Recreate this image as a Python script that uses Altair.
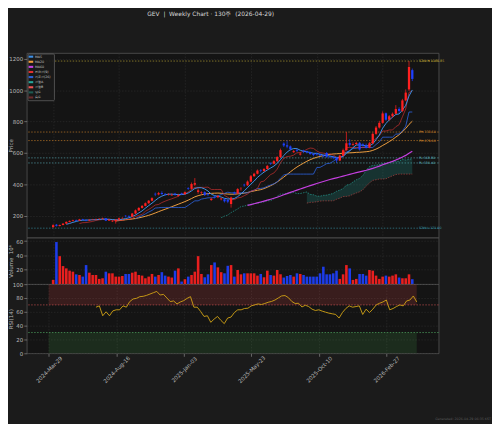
import altair as alt
import pandas as pd

# ---------------- data ----------------
TITLE = "GEV  |  Weekly Chart · 130주  (2026-04-29)"
FOOTER = "Generated: 2026-04-29 06:35 KST"

TICK_POS = [0, 20, 40, 60, 80, 100]
TICK_LABELS = ["2024-Mar-29", "2024-Aug-16", "2025-Jan-03", "2025-May-23", "2025-Oct-10", "2026-Feb-27"]

OPEN = [128, 143, 135, 141, 150, 161, 167, 173, 169, 178,
        174, 170, 175, 177, 179, 181, 184, 169, 164, 165,
        175, 184, 200, 198, 194, 214, 234, 250, 263, 280,
        296, 340, 336, 345, 339, 334, 330, 341, 326, 342,
        337, 376, 372, 398, 352, 345, 350, 340, 300, 322,
        318, 305, 305, 300, 275, 348, 342, 370, 398, 394,
        418, 452, 468, 489, 485, 498, 536, 532, 548, 574,
        660, 649, 642, 605, 620, 590, 615, 611, 605, 595,
        596, 592, 585, 600, 577, 575, 571, 552, 583, 618,
        663, 652, 657, 665, 655, 649, 634, 662, 722, 762,
        792, 853, 812, 834, 850, 881, 868, 935, 1005, 1128]
HIGH = [146, 148, 144, 153, 164, 170, 175, 176, 180, 181,
        177, 178, 180, 182, 184, 188, 186, 179, 172, 178,
        188, 191, 204, 203, 218, 240, 255, 268, 285, 300,
        318, 348, 352, 356, 345, 343, 342, 346, 340, 347,
        356, 382, 412, 440, 375, 356, 356, 345, 315, 328,
        333, 316, 310, 305, 322, 354, 376, 382, 404, 425,
        460, 474, 495, 497, 504, 524, 540, 555, 580, 628,
        668, 679, 648, 620, 626, 604, 621, 615, 609, 600,
        602, 596, 590, 606, 582, 580, 576, 590, 628, 733.5,
        688, 668, 672, 670, 662, 660, 670, 730, 772, 805,
        865, 858, 842, 858, 905, 892, 945, 1005, 1185.85, 1138]
LOW = [121, 131, 132, 139, 147, 158, 164, 165, 167, 170,
       164, 166, 171, 173, 175, 178, 166, 168, 160, 150,
       172, 180, 190, 189, 192, 212, 230, 246, 260, 276,
       292, 325, 330, 334, 330, 329, 328, 328, 322, 332,
       334, 365, 368, 390, 340, 336, 326, 325, 295, 310,
       312, 298, 284, 280, 252, 335, 338, 360, 385, 390,
       414, 448, 464, 476, 480, 494, 524, 527, 542, 568,
       638, 630, 615, 600, 606, 584, 600, 598, 588, 579,
       584, 578, 572, 568.8, 566, 560, 536.4, 548, 578, 614,
       640, 646, 652, 615, 640, 628, 630, 656, 716, 756,
       786, 805, 806, 826, 846, 856, 860, 930, 995, 1058]
CLOSE = [140, 136, 141, 150, 161, 167, 171, 169, 177, 174,
         170, 175, 177, 179, 181, 184, 169, 176, 168, 175,
         184, 186, 197, 194, 214, 234, 250, 263, 280, 296,
         312, 336, 344, 338, 335, 337, 334, 336, 331, 337,
         350, 372, 402, 408, 362, 349, 333, 335, 308, 318,
         326, 310, 292, 290, 316, 342, 370, 372, 394, 418,
         452, 468, 488, 485, 498, 518, 532, 548, 574, 618,
         648, 641, 624, 612, 614, 596, 610, 604, 594, 587,
         591, 584, 579, 576, 573, 570, 552, 583, 618, 662,
         652, 657, 664, 622, 648, 634, 662, 722, 762, 792,
         852, 812, 834, 850, 880, 868, 935, 985, 1148, 1072]
VOLUME = [6.0, 58.7, 39.0, 25.2, 22.0, 18.8, 17.4, 13.7, 12.8, 10.5,
          26.6, 16.0, 12.8, 12.8, 7.3, 8.2, 17.4, 15.1, 15.1, 10.5,
          10.5, 11.4, 14.2, 14.2, 16.0, 17.4, 12.8, 11.9, 8.2, 10.5,
          14.2, 10.5, 12.8, 16.7, 11.9, 10.5, 9.2, 18.8, 22.0, 3.6,
          6.9, 10.5, 12.8, 17.4, 39.0, 14.2, 9.6, 13.7, 26.6, 30.3,
          23.4, 16.7, 15.1, 25.6, 26.6, 10.5, 19.7, 13.7, 15.1,
          15.1, 15.1, 15.1, 11.9, 14.2, 9.6, 18.8, 12.8, 11.9, 19.7,
          13.7, 9.2, 11.4, 12.8, 10.5, 15.1, 14.2, 12.8, 10.5, 10.5,
          10.5, 10.5, 15.1, 24.3, 13.7, 13.7, 15.1, 18.8, 7.3, 13.7,
          26.6, 22.0, 5.9, 7.3, 14.2, 14.2, 11.9, 19.7, 18.8, 11.9,
          7.3, 10.5, 11.9, 10.5, 11.9, 13.7, 9.2, 8.2, 8.2, 13.7, 6.9]

RSI_START = 14
RSI = [66.7, 68.6, 54.3, 60.0, 54.3, 61.4, 62.9, 62.9, 68.6, 66.7,
       74.8, 78.6, 79.5, 81.9, 82.4, 83.8, 85.7, 87.6, 89.5, 84.3,
       85.2, 80.0, 74.8, 75.7, 71.4, 74.3, 76.2, 79.5, 81.9, 66.7,
       66.7, 60.5, 53.3, 54.3, 44.8, 49.5, 53.3, 47.6, 42.9, 51.0,
       52.4, 59.0, 62.9, 62.9, 64.8,
       65.2, 68.6, 70.0, 71.4, 70.5, 72.0, 73.8, 75.0, 77.0, 80.0,
       83.0, 83.5, 80.5, 75.0, 72.0, 72.4, 67.0, 69.5, 67.6, 63.8,
       61.9, 62.9, 61.0, 59.5, 58.1, 57.1, 56.2, 51.0, 59.0, 64.8,
       68.6, 66.7, 67.6, 68.6, 56.2, 63.8, 59.0, 63.8, 70.0, 72.4,
       74.3, 77.1, 62.9, 64.8, 67.6, 70.0, 68.6, 75.7, 77.1, 82.9,
       74.3]
RSI_BANDS_LO = [70, 0]
RSI_BANDS_HI = [100, 30]
RSI_BAND_COLORS = ["#ff5252", "#4caf50"]
RSI_LINES = [70, 30]
RSI_LINE_COLORS = ["#b04848", "#4a9a5a"]

LEVEL_VALUES = [1185.85, 733.50, 679.00, 568.80, 536.40, 121.00]
LEVEL_LABELS = ["52W H 1185.85", "PH 733.50", "PH 679.00", "PL 568.80", "PL 536.40", "52W L 121.00"]
LEVEL_COLORS = ["#c9b037", "#d98a2b", "#d98a2b", "#5fb8c4", "#5fb8c4", "#3a9cb0"]

LEGEND_NAMES = ["MA5", "MA20", "MA60", "전환선(9)", "기준선(26)", "선행A", "선행B", "양운", "음운"]
LEGEND_COLORS = ["#3d8fe6", "#f39c3c", "#c53fe0", "#e03030", "#2b5fd6", "#26a69a", "#ef5350", "#1e5a52", "#6a2c2c"]

# ---------------- styling ----------------
BG = "#1b1b1b"
PANEL = "#141414"
FRAME = "#555555"
GRID = "#303030"
TXT = "#b8b8b8"
UP, DOWN = "#ff2020", "#1e40ff"
VUP, VDOWN = "#f47878", "#68a2f4"
FONT = "DejaVu Sans"

# ---------------- frames ----------------
df = pd.DataFrame({"i": range(len(CLOSE)), "o": OPEN, "h": HIGH, "l": LOW, "c": CLOSE, "v": VOLUME})
df["dir"] = ["up" if c >= o else "down" for o, c in zip(OPEN, CLOSE)]

c, h, l = df["c"], df["h"], df["l"]
ind = pd.DataFrame({"i": df["i"]})
ind["MA5"] = c.rolling(5).mean()
ind["MA20"] = c.rolling(20).mean()
ind["MA60"] = c.rolling(60).mean()
tenkan = (h.rolling(9).max() + l.rolling(9).min()) / 2
kijun = (h.rolling(26).max() + l.rolling(26).min()) / 2
ind["tenkan"] = tenkan
ind["kijun"] = kijun
ind["spanA"] = ((tenkan + kijun) / 2).shift(26)
ind["spanB"] = ((h.rolling(52).max() + l.rolling(52).min()) / 2).shift(26)

XS = alt.Scale(domain=[-6.5, 115.5], nice=False, zero=False)
PS = alt.Scale(domain=[60, 1237], nice=False, zero=False)

x_hidden = alt.X("i:Q", scale=XS, axis=alt.Axis(values=TICK_POS, labels=False, ticks=False,
                                                 domain=False, grid=True, title=None))
label_expr = " : ".join(f"datum.value == {p} ? '{t}'" for p, t in zip(TICK_POS, TICK_LABELS)) + " : ''"
bottom_axis = alt.Axis(values=TICK_POS, labelExpr=label_expr, labelAngle=-45, labelAlign="center",
                       labelBaseline="middle", labelPadding=13, tickSize=3, domain=False,
                       grid=True, title=None, labelOverlap=False)

price_axis = alt.Axis(values=[200, 400, 600, 800, 1000, 1200], format="d", title="Price",
                      titleX=-13, titleY=93.5, titleAngle=270, titleBaseline="bottom", titleAlign="center")


def py(field):
    return alt.Y(field, scale=PS, axis=price_axis)


dir_color = alt.Color("dir:N", scale=alt.Scale(domain=["up", "down"], range=[UP, DOWN]), legend=None)

levels = pd.DataFrame({"value": LEVEL_VALUES, "label": LEVEL_LABELS, "color": LEVEL_COLORS})
level_rules = alt.Chart(levels).mark_rule(strokeDash=[1.5, 1.5], strokeWidth=0.8, opacity=0.75).encode(
    y=py("value:Q"), color=alt.Color("color:N", scale=None))
level_text = alt.Chart(levels).mark_text(align="left", baseline="middle", fontSize=3.3).encode(
    x=alt.value(397), y=py("value:Q"), text="label:N", color=alt.Color("color:N", scale=None))

cloud_df = ind[["i", "spanA", "spanB"]].dropna()
bull = cloud_df[cloud_df["spanA"] >= cloud_df["spanB"]]
layers = [level_rules]
layers.append(alt.Chart(bull).mark_area(color="#26a69a", opacity=0.22).encode(
    x=x_hidden, y=py("spanA:Q"), y2="spanB:Q"))
bear = cloud_df[cloud_df["spanA"] < cloud_df["spanB"]]
if len(bear):
    layers.append(alt.Chart(bear).mark_area(color="#ef5350", opacity=0.22).encode(
        x=x_hidden, y=py("spanA:Q"), y2="spanB:Q"))

LINE_SPECS = [
    ("spanA", "#26a69a", 0.8, [1.5, 1.2], 0.85),
    ("spanB", "#ef5350", 0.8, [1.5, 1.2], 0.6),
    ("MA60", "#c53fe0", 1.2, None, 1.0),
    ("MA20", "#f0a040", 1.0, None, 1.0),
    ("kijun", "#2b5fd6", 0.9, None, 0.95),
    ("tenkan", "#d03030", 0.9, None, 0.75),
    ("MA5", "#3d8fe6", 1.0, None, 1.0),
]
for name, col, w, dash, op in LINE_SPECS:
    sub = ind[["i", name]].dropna().rename(columns={name: "val"})
    kw = dict(color=col, strokeWidth=w, opacity=op)
    if dash:
        kw["strokeDash"] = dash
    layers.append(alt.Chart(sub).mark_line(**kw).encode(x=x_hidden, y=py("val:Q")))

layers.append(alt.Chart(df).mark_rule(strokeWidth=0.7).encode(
    x=x_hidden, y=py("l:Q"), y2="h:Q", color=dir_color))
layers.append(alt.Chart(df).mark_bar(size=2.3).encode(
    x=x_hidden, y=py("o:Q"), y2="c:Q", color=dir_color))
layers.append(level_text)
price_main = alt.layer(*layers)

# legend + title
leg = pd.DataFrame({"k": range(len(LEGEND_NAMES)), "name": LEGEND_NAMES, "color": LEGEND_COLORS})
LY = alt.Y("k:Q", scale=alt.Scale(domain=[0, len(LEGEND_NAMES) - 1], range=[3.7, 45]), axis=None)
box = alt.Chart(pd.DataFrame({"a": [0]})).mark_rect(
    fill="#1a1a1a", stroke="#707070", strokeWidth=0.7, opacity=0.9, cornerRadius=1).encode(
    x=alt.value(1.3), x2=alt.value(28), y=alt.value(1), y2=alt.value(48.3))
patches = alt.Chart(leg).mark_point(
    shape="M-1,-0.45L1,-0.45L1,0.45L-1,0.45Z", size=22, filled=True, opacity=1, strokeWidth=0).encode(
    x=alt.value(4.2), y=LY, color=alt.Color("color:N", scale=None))
names = alt.Chart(leg).mark_text(align="left", baseline="middle", fontSize=3.3, color="#c8c8c8").encode(
    x=alt.value(8.3), y=LY, text="name:N")
title = alt.Chart(pd.DataFrame({"t": [TITLE.replace("  ", "\u00a0\u00a0")]})).mark_text(
    align="left", baseline="top", fontSize=6, color="#d8d8d8").encode(
    x=alt.value(122), y=alt.value(-42), text="t:N")
legend_layer = alt.layer(box, patches, names, title)

price = alt.layer(price_main, legend_layer).resolve_scale(y="independent").properties(width=417, height=187)

# volume panel
vol = alt.Chart(df).mark_bar(size=2.6, opacity=0.9).encode(
    x=x_hidden,
    y=alt.Y("v:Q", scale=alt.Scale(domain=[0, 64.7], nice=False),
            axis=alt.Axis(values=[20, 40, 60], title="Volume\u00a0\u00a010⁶", titleX=-13, titleY=23.5,
                          titleAngle=270, titleBaseline="bottom", titleAlign="center")),
    color=alt.Color("dir:N", scale=alt.Scale(domain=["up", "down"], range=[VUP, VDOWN]), legend=None),
).properties(width=417, height=47)

# RSI panel
RS = alt.Scale(domain=[0, 100], nice=False)
rsi_axis = alt.Axis(values=[0, 20, 40, 60, 80, 100], title="RSI(14)", titleX=-13, titleY=35,
                    titleAngle=270, titleBaseline="bottom", titleAlign="center")
bands = pd.DataFrame({"x0": [int(df["i"].min())] * 2, "x1": [int(df["i"].max())] * 2,
                      "y0": RSI_BANDS_LO, "y1": RSI_BANDS_HI, "color": RSI_BAND_COLORS})
band_layer = alt.Chart(bands).mark_rect(opacity=0.16).encode(
    x=alt.X("x0:Q", scale=XS, axis=bottom_axis), x2="x1:Q",
    y=alt.Y("y0:Q", scale=RS, axis=rsi_axis), y2="y1:Q",
    color=alt.Color("color:N", scale=None))
rlines = pd.DataFrame({"y": RSI_LINES, "color": RSI_LINE_COLORS})
rule_layer = alt.Chart(rlines).mark_rule(strokeDash=[1.5, 1.5], strokeWidth=0.8).encode(
    y=alt.Y("y:Q", scale=RS, axis=rsi_axis), color=alt.Color("color:N", scale=None))
rsi_df = pd.DataFrame({"i": range(RSI_START, RSI_START + len(RSI)), "rsi": RSI})
rsi_line = alt.Chart(rsi_df).mark_line(color="#d4a514", strokeWidth=0.9).encode(
    x=alt.X("i:Q", scale=XS, axis=bottom_axis), y=alt.Y("rsi:Q", scale=RS, axis=rsi_axis))
footer = alt.Chart(pd.DataFrame({"t": [FOOTER]})).mark_text(
    align="right", baseline="bottom", fontSize=3.3, color="#5c5c5c").encode(
    x=alt.value(470), y=alt.value(139), text="t:N")
rsi = alt.layer(band_layer, rule_layer, rsi_line, footer).properties(width=417, height=70)

chart = alt.vconcat(price, vol, rsi, spacing=0, bounds="flush").properties(
    background=BG, padding=0
).configure(font=FONT).configure_view(
    fill=PANEL, stroke=FRAME, strokeWidth=0.8
).configure_axis(
    labelFontSize=5.5, labelColor=TXT, labelPadding=1.2, labelFont=FONT,
    titleFontSize=5.5, titleColor=TXT, titleFontWeight="normal", titleFont=FONT,
    tickColor="#8a8a8a", tickSize=3, tickWidth=0.7,
    gridColor=GRID, gridDash=[1.5, 1.5], gridWidth=0.6, domain=False,
)

chart.save("out.html", embed_options={"renderer": "svg", "actions": False})
